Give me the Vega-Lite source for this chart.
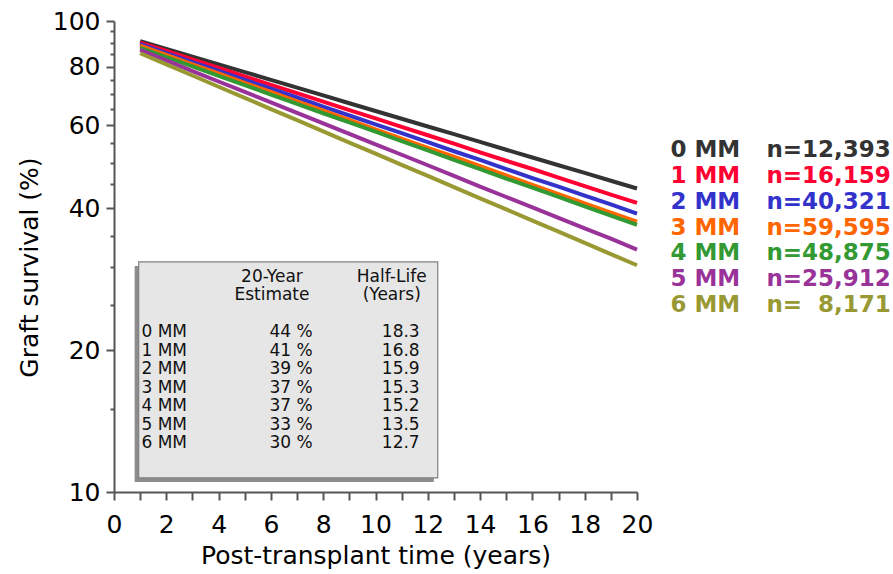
{
  "$schema": "https://vega.github.io/schema/vega-lite/v6.json",
  "width": 523,
  "height": 471,
  "autosize": "none",
  "padding": {"left": 114, "top": 21, "right": 256, "bottom": 82},
  "background": "white",
  "config": {"view": {"stroke": null}, "font": "DejaVu Sans"},
  "datasets": {
    "curves": [
      {"mm":"0 MM","year":1,"surv":90.6},{"mm":"0 MM","year":2,"surv":87.2},{"mm":"0 MM","year":3,"surv":84.0},{"mm":"0 MM","year":4,"surv":80.9},{"mm":"0 MM","year":5,"surv":77.9},{"mm":"0 MM","year":6,"surv":75.0},{"mm":"0 MM","year":7,"surv":72.2},{"mm":"0 MM","year":8,"surv":69.5},{"mm":"0 MM","year":9,"surv":66.9},{"mm":"0 MM","year":10,"surv":64.4},{"mm":"0 MM","year":11,"surv":62.0},{"mm":"0 MM","year":12,"surv":59.7},{"mm":"0 MM","year":13,"surv":57.5},{"mm":"0 MM","year":14,"surv":55.4},{"mm":"0 MM","year":15,"surv":53.3},{"mm":"0 MM","year":16,"surv":51.3},{"mm":"0 MM","year":17,"surv":49.4},{"mm":"0 MM","year":18,"surv":47.6},{"mm":"0 MM","year":19,"surv":45.8},{"mm":"0 MM","year":20,"surv":44.1},
      {"mm":"1 MM","year":1,"surv":90.0},{"mm":"1 MM","year":2,"surv":86.4},{"mm":"1 MM","year":3,"surv":82.9},{"mm":"1 MM","year":4,"surv":79.5},{"mm":"1 MM","year":5,"surv":76.3},{"mm":"1 MM","year":6,"surv":73.2},{"mm":"1 MM","year":7,"surv":70.3},{"mm":"1 MM","year":8,"surv":67.4},{"mm":"1 MM","year":9,"surv":64.7},{"mm":"1 MM","year":10,"surv":62.1},{"mm":"1 MM","year":11,"surv":59.6},{"mm":"1 MM","year":12,"surv":57.2},{"mm":"1 MM","year":13,"surv":54.9},{"mm":"1 MM","year":14,"surv":52.6},{"mm":"1 MM","year":15,"surv":50.5},{"mm":"1 MM","year":16,"surv":48.5},{"mm":"1 MM","year":17,"surv":46.5},{"mm":"1 MM","year":18,"surv":44.6},{"mm":"1 MM","year":19,"surv":42.8},{"mm":"1 MM","year":20,"surv":41.1},
      {"mm":"2 MM","year":1,"surv":89.3},{"mm":"2 MM","year":2,"surv":85.5},{"mm":"2 MM","year":3,"surv":81.8},{"mm":"2 MM","year":4,"surv":78.4},{"mm":"2 MM","year":5,"surv":75.0},{"mm":"2 MM","year":6,"surv":71.8},{"mm":"2 MM","year":7,"surv":68.8},{"mm":"2 MM","year":8,"surv":65.8},{"mm":"2 MM","year":9,"surv":63.0},{"mm":"2 MM","year":10,"surv":60.3},{"mm":"2 MM","year":11,"surv":57.8},{"mm":"2 MM","year":12,"surv":55.3},{"mm":"2 MM","year":13,"surv":52.9},{"mm":"2 MM","year":14,"surv":50.7},{"mm":"2 MM","year":15,"surv":48.5},{"mm":"2 MM","year":16,"surv":46.4},{"mm":"2 MM","year":17,"surv":44.5},{"mm":"2 MM","year":18,"surv":42.6},{"mm":"2 MM","year":19,"surv":40.8},{"mm":"2 MM","year":20,"surv":39.0},
      {"mm":"3 MM","year":1,"surv":88.6},{"mm":"3 MM","year":2,"surv":84.7},{"mm":"3 MM","year":3,"surv":80.9},{"mm":"3 MM","year":4,"surv":77.4},{"mm":"3 MM","year":5,"surv":73.9},{"mm":"3 MM","year":6,"surv":70.7},{"mm":"3 MM","year":7,"surv":67.5},{"mm":"3 MM","year":8,"surv":64.5},{"mm":"3 MM","year":9,"surv":61.7},{"mm":"3 MM","year":10,"surv":58.9},{"mm":"3 MM","year":11,"surv":56.3},{"mm":"3 MM","year":12,"surv":53.8},{"mm":"3 MM","year":13,"surv":51.5},{"mm":"3 MM","year":14,"surv":49.2},{"mm":"3 MM","year":15,"surv":47.0},{"mm":"3 MM","year":16,"surv":44.9},{"mm":"3 MM","year":17,"surv":42.9},{"mm":"3 MM","year":18,"surv":41.0},{"mm":"3 MM","year":19,"surv":39.2},{"mm":"3 MM","year":20,"surv":37.5},
      {"mm":"4 MM","year":1,"surv":87.7},{"mm":"4 MM","year":2,"surv":83.8},{"mm":"4 MM","year":3,"surv":80.1},{"mm":"4 MM","year":4,"surv":76.5},{"mm":"4 MM","year":5,"surv":73.1},{"mm":"4 MM","year":6,"surv":69.8},{"mm":"4 MM","year":7,"surv":66.7},{"mm":"4 MM","year":8,"surv":63.7},{"mm":"4 MM","year":9,"surv":60.9},{"mm":"4 MM","year":10,"surv":58.2},{"mm":"4 MM","year":11,"surv":55.6},{"mm":"4 MM","year":12,"surv":53.1},{"mm":"4 MM","year":13,"surv":50.7},{"mm":"4 MM","year":14,"surv":48.5},{"mm":"4 MM","year":15,"surv":46.3},{"mm":"4 MM","year":16,"surv":44.3},{"mm":"4 MM","year":17,"surv":42.3},{"mm":"4 MM","year":18,"surv":40.4},{"mm":"4 MM","year":19,"surv":38.6},{"mm":"4 MM","year":20,"surv":36.9},
      {"mm":"5 MM","year":1,"surv":86.8},{"mm":"5 MM","year":2,"surv":82.5},{"mm":"5 MM","year":3,"surv":78.3},{"mm":"5 MM","year":4,"surv":74.4},{"mm":"5 MM","year":5,"surv":70.7},{"mm":"5 MM","year":6,"surv":67.2},{"mm":"5 MM","year":7,"surv":63.8},{"mm":"5 MM","year":8,"surv":60.6},{"mm":"5 MM","year":9,"surv":57.6},{"mm":"5 MM","year":10,"surv":54.7},{"mm":"5 MM","year":11,"surv":52.0},{"mm":"5 MM","year":12,"surv":49.4},{"mm":"5 MM","year":13,"surv":46.9},{"mm":"5 MM","year":14,"surv":44.5},{"mm":"5 MM","year":15,"surv":42.3},{"mm":"5 MM","year":16,"surv":40.2},{"mm":"5 MM","year":17,"surv":38.2},{"mm":"5 MM","year":18,"surv":36.3},{"mm":"5 MM","year":19,"surv":34.5},{"mm":"5 MM","year":20,"surv":32.7},
      {"mm":"6 MM","year":1,"surv":85.4},{"mm":"6 MM","year":2,"surv":80.9},{"mm":"6 MM","year":3,"surv":76.6},{"mm":"6 MM","year":4,"surv":72.5},{"mm":"6 MM","year":5,"surv":68.7},{"mm":"6 MM","year":6,"surv":65.0},{"mm":"6 MM","year":7,"surv":61.6},{"mm":"6 MM","year":8,"surv":58.3},{"mm":"6 MM","year":9,"surv":55.2},{"mm":"6 MM","year":10,"surv":52.3},{"mm":"6 MM","year":11,"surv":49.5},{"mm":"6 MM","year":12,"surv":46.9},{"mm":"6 MM","year":13,"surv":44.4},{"mm":"6 MM","year":14,"surv":42.0},{"mm":"6 MM","year":15,"surv":39.8},{"mm":"6 MM","year":16,"surv":37.7},{"mm":"6 MM","year":17,"surv":35.7},{"mm":"6 MM","year":18,"surv":33.8},{"mm":"6 MM","year":19,"surv":32.0},{"mm":"6 MM","year":20,"surv":30.3}
    ],
    "table": [
      {"mm":"0 MM","est":"44 %","hl":"18.3"},
      {"mm":"1 MM","est":"41 %","hl":"16.8"},
      {"mm":"2 MM","est":"39 %","hl":"15.9"},
      {"mm":"3 MM","est":"37 %","hl":"15.3"},
      {"mm":"4 MM","est":"37 %","hl":"15.2"},
      {"mm":"5 MM","est":"33 %","hl":"13.5"},
      {"mm":"6 MM","est":"30 %","hl":"12.7"}
    ],
    "header": [
      {"row":"head1","c2":"20-Year","c3":"Half-Life"},
      {"row":"head2","c2":"Estimate","c3":"(Years)"}
    ],
    "legendRows": [
      {"mm":"0 MM","n":"n=12,393"},
      {"mm":"1 MM","n":"n=16,159"},
      {"mm":"2 MM","n":"n=40,321"},
      {"mm":"3 MM","n":"n=59,595"},
      {"mm":"4 MM","n":"n=48,875"},
      {"mm":"5 MM","n":"n=25,912"},
      {"mm":"6 MM","n":"n=\u00a0\u00a08,171"}
    ]
  },
  "layer": [
    {
      "data": {"values": [{}]},
      "mark": {"type": "rect", "fill": "#8c8c8c"},
      "encoding": {
        "x": {"datum": 0.79, "type": "quantitative", "scale": {"domain": [0, 20], "nice": false}, "axis": null},
        "x2": {"datum": 12.23},
        "y": {"datum": 30.2, "type": "quantitative", "scale": {"type": "log", "domain": [10, 100], "nice": false}, "axis": null},
        "y2": {"datum": 10.5}
      }
    },
    {
      "data": {"values": [{}]},
      "mark": {"type": "rect", "fill": "#e6e6e6", "stroke": "#808080", "strokeWidth": 1.2},
      "encoding": {
        "x": {"datum": 0.944, "type": "quantitative", "scale": {"domain": [0, 20], "nice": false}, "axis": null},
        "x2": {"datum": 12.38},
        "y": {"datum": 30.8, "type": "quantitative", "scale": {"type": "log", "domain": [10, 100], "nice": false}, "axis": null},
        "y2": {"datum": 10.71}
      }
    },
    {
      "data": {"name": "curves"},
      "mark": {"type": "line", "strokeWidth": 4, "strokeCap": "butt"},
      "encoding": {
        "x": {
          "field": "year", "type": "quantitative",
          "scale": {"domain": [0, 20], "nice": false},
          "axis": {
            "values": [0,1,2,3,4,5,6,7,8,9,10,11,12,13,14,15,16,17,18,19,20],
            "labelExpr": "datum.value % 2 === 0 ? datum.label : ''",
            "title": "Post-transplant time (years)",
            "grid": false, "tickSize": 8, "tickWidth": 2, "tickColor": "#555",
            "domainColor": "#555", "domainWidth": 2,
            "labelFontSize": 25, "labelColor": "#000", "labelPadding": 12,
            "labelOverlap": false, "labelFlush": false,
            "titleFontSize": 25, "titleFontWeight": "normal", "titleColor": "#000", "titlePadding": 6
          }
        },
        "y": {
          "field": "surv", "type": "quantitative",
          "scale": {"type": "log", "domain": [10, 100], "nice": false},
          "axis": {
            "values": [10,15,20,25,30,35,40,45,50,55,60,65,70,75,80,85,90,95,100],
            "format": "d",
            "labelExpr": "indexof([10,20,40,60,80,100], datum.value) >= 0 ? datum.label : ''",
            "tickSize": {"expr": "indexof([10,20,40,60,80,100], datum.value) >= 0 ? 8 : 4"},
            "title": "Graft survival (%)",
            "titleY": 246,
            "grid": false, "tickWidth": 2, "tickColor": "#555",
            "domainColor": "#555", "domainWidth": 2,
            "labelFontSize": 25, "labelColor": "#000", "labelPadding": 6,
            "labelOverlap": false, "labelFlush": false,
            "titleFontSize": 25, "titleFontWeight": "normal", "titleColor": "#000", "titlePadding": 10
          }
        },
        "color": {
          "field": "mm", "type": "nominal", "legend": null,
          "scale": {
            "domain": ["0 MM","1 MM","2 MM","3 MM","4 MM","5 MM","6 MM"],
            "range": ["#333333","#ff0033","#3333cc","#ff6600","#339933","#993399","#999933"]
          }
        }
      }
    },
    {
      "data": {"name": "table"},
      "mark": {"type": "text", "align": "left", "baseline": "middle", "fontSize": 17, "fill": "#111"},
      "encoding": {
        "x": {"datum": 1.05, "type": "quantitative", "scale": {"domain": [0, 20], "nice": false}, "axis": null},
        "y": {"field": "mm", "type": "ordinal", "scale": {"type": "point", "padding": 0, "domain": ["head1","head2","gap","0 MM","1 MM","2 MM","3 MM","4 MM","5 MM","6 MM"], "range": [255.5, 422]}, "axis": null},
        "text": {"field": "mm"}
      }
    },
    {
      "data": {"name": "table"},
      "mark": {"type": "text", "align": "right", "baseline": "middle", "fontSize": 17, "fill": "#111"},
      "encoding": {
        "x": {"datum": 7.6, "type": "quantitative", "scale": {"domain": [0, 20], "nice": false}, "axis": null},
        "y": {"field": "mm", "type": "ordinal", "scale": {"type": "point", "padding": 0, "domain": ["head1","head2","gap","0 MM","1 MM","2 MM","3 MM","4 MM","5 MM","6 MM"], "range": [255.5, 422]}, "axis": null},
        "text": {"field": "est"}
      }
    },
    {
      "data": {"name": "table"},
      "mark": {"type": "text", "align": "right", "baseline": "middle", "fontSize": 17, "fill": "#111"},
      "encoding": {
        "x": {"datum": 11.69, "type": "quantitative", "scale": {"domain": [0, 20], "nice": false}, "axis": null},
        "y": {"field": "mm", "type": "ordinal", "scale": {"type": "point", "padding": 0, "domain": ["head1","head2","gap","0 MM","1 MM","2 MM","3 MM","4 MM","5 MM","6 MM"], "range": [255.5, 422]}, "axis": null},
        "text": {"field": "hl"}
      }
    },
    {
      "data": {"name": "header"},
      "mark": {"type": "text", "align": "center", "baseline": "middle", "fontSize": 17, "fill": "#111"},
      "encoding": {
        "x": {"datum": 6.04, "type": "quantitative", "scale": {"domain": [0, 20], "nice": false}, "axis": null},
        "y": {"field": "row", "type": "ordinal", "scale": {"type": "point", "padding": 0, "domain": ["head1","head2","gap","0 MM","1 MM","2 MM","3 MM","4 MM","5 MM","6 MM"], "range": [255.5, 422]}, "axis": null},
        "text": {"field": "c2"}
      }
    },
    {
      "data": {"name": "header"},
      "mark": {"type": "text", "align": "center", "baseline": "middle", "fontSize": 17, "fill": "#111"},
      "encoding": {
        "x": {"datum": 10.62, "type": "quantitative", "scale": {"domain": [0, 20], "nice": false}, "axis": null},
        "y": {"field": "row", "type": "ordinal", "scale": {"type": "point", "padding": 0, "domain": ["head1","head2","gap","0 MM","1 MM","2 MM","3 MM","4 MM","5 MM","6 MM"], "range": [255.5, 422]}, "axis": null},
        "text": {"field": "c3"}
      }
    },
    {
      "data": {"name": "legendRows"},
      "mark": {"type": "text", "align": "left", "baseline": "middle", "fontSize": 23, "fontWeight": "bold"},
      "encoding": {
        "x": {"datum": 21.28, "type": "quantitative", "scale": {"domain": [0, 20], "nice": false}, "axis": null},
        "y": {"field": "mm", "type": "ordinal", "scale": {"type": "point", "padding": 0, "domain": ["0 MM","1 MM","2 MM","3 MM","4 MM","5 MM","6 MM"], "range": [129, 284]}, "axis": null},
        "text": {"field": "mm"},
        "color": {"field": "mm", "type": "nominal", "legend": null}
      }
    },
    {
      "data": {"name": "legendRows"},
      "mark": {"type": "text", "align": "left", "baseline": "middle", "fontSize": 23, "fontWeight": "bold"},
      "encoding": {
        "x": {"datum": 24.95, "type": "quantitative", "scale": {"domain": [0, 20], "nice": false}, "axis": null},
        "y": {"field": "mm", "type": "ordinal", "scale": {"type": "point", "padding": 0, "domain": ["0 MM","1 MM","2 MM","3 MM","4 MM","5 MM","6 MM"], "range": [129, 284]}, "axis": null},
        "text": {"field": "n"},
        "color": {"field": "mm", "type": "nominal", "legend": null}
      }
    }
  ],
  "resolve": {"scale": {"x": "independent", "y": "independent"}, "axis": {"x": "independent", "y": "independent"}}
}
